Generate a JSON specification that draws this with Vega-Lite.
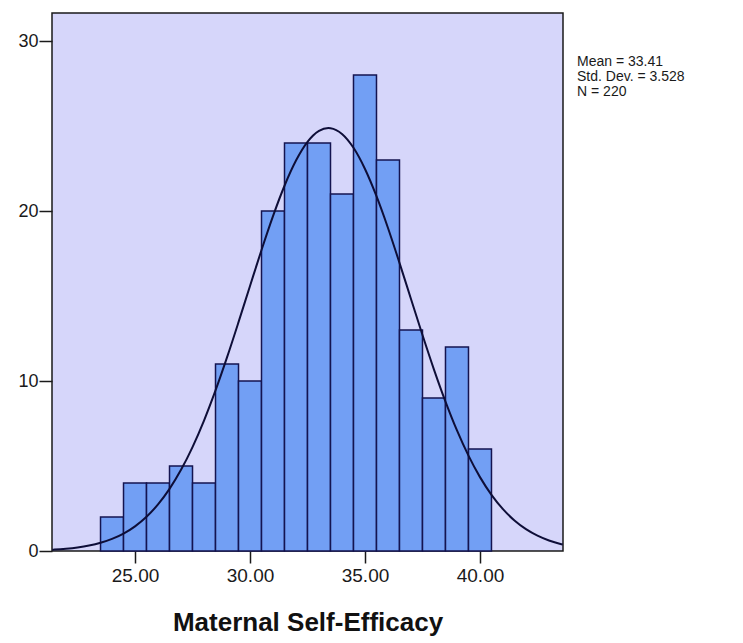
{
  "$schema": "https://vega.github.io/schema/vega-lite/v6.json",
  "width": 511,
  "height": 538,
  "autosize": {"type": "none"},
  "padding": {"left": 52, "top": 13, "right": 180, "bottom": 92},
  "background": "#ffffff",
  "config": {
    "view": {"fill": "#d6d6fa", "stroke": "#1a1a1a", "strokeWidth": 1.5},
    "font": "Liberation Sans",
    "axis": {"grid": false, "domain": false, "tickColor": "#1a1a1a", "tickWidth": 1.5, "labelColor": "#1a1a1a", "labelFont": "Liberation Sans", "labelFontSize": 18}
  },
  "datasets": {
    "bins": [
      {"start": 23.5, "end": 24.5, "count": 2},
      {"start": 24.5, "end": 25.5, "count": 4},
      {"start": 25.5, "end": 26.5, "count": 4},
      {"start": 26.5, "end": 27.5, "count": 5},
      {"start": 27.5, "end": 28.5, "count": 4},
      {"start": 28.5, "end": 29.5, "count": 11},
      {"start": 29.5, "end": 30.5, "count": 10},
      {"start": 30.5, "end": 31.5, "count": 20},
      {"start": 31.5, "end": 32.5, "count": 24},
      {"start": 32.5, "end": 33.5, "count": 24},
      {"start": 33.5, "end": 34.5, "count": 21},
      {"start": 34.5, "end": 35.5, "count": 28},
      {"start": 35.5, "end": 36.5, "count": 23},
      {"start": 36.5, "end": 37.5, "count": 13},
      {"start": 37.5, "end": 38.5, "count": 9},
      {"start": 38.5, "end": 39.5, "count": 12},
      {"start": 39.5, "end": 40.5, "count": 6}
    ],
    "curve": [
      {"x": 21.4, "y": 0.076}, {"x": 21.5, "y": 0.083}, {"x": 22, "y": 0.133}, {"x": 22.5, "y": 0.209},
      {"x": 23, "y": 0.32}, {"x": 23.5, "y": 0.481}, {"x": 24, "y": 0.71}, {"x": 24.5, "y": 1.025},
      {"x": 25, "y": 1.452}, {"x": 25.5, "y": 2.015}, {"x": 26, "y": 2.74}, {"x": 26.5, "y": 3.654},
      {"x": 27, "y": 4.775}, {"x": 27.5, "y": 6.115}, {"x": 28, "y": 7.675}, {"x": 28.5, "y": 9.446},
      {"x": 29, "y": 11.389}, {"x": 29.5, "y": 13.462}, {"x": 30, "y": 15.594}, {"x": 30.5, "y": 17.706},
      {"x": 31, "y": 19.701}, {"x": 31.5, "y": 21.487}, {"x": 32, "y": 22.968}, {"x": 32.5, "y": 24.065},
      {"x": 33, "y": 24.711}, {"x": 33.41, "y": 24.878}, {"x": 33.5, "y": 24.87}, {"x": 34, "y": 24.533},
      {"x": 34.5, "y": 23.719}, {"x": 35, "y": 22.475}, {"x": 35.5, "y": 20.873}, {"x": 36, "y": 19.002},
      {"x": 36.5, "y": 16.952}, {"x": 37, "y": 14.825}, {"x": 37.5, "y": 12.705}, {"x": 38, "y": 10.673},
      {"x": 38.5, "y": 8.787}, {"x": 39, "y": 7.09}, {"x": 39.5, "y": 5.608}, {"x": 40, "y": 4.346},
      {"x": 40.5, "y": 3.304}, {"x": 41, "y": 2.459}, {"x": 41.5, "y": 1.795}, {"x": 42, "y": 1.283},
      {"x": 42.5, "y": 0.9}, {"x": 43, "y": 0.618}, {"x": 43.5, "y": 0.416}, {"x": 43.6, "y": 0.384}
    ]
  },
  "layer": [
    {
      "data": {"name": "bins"},
      "mark": {"type": "bar", "fill": "#729ff4", "stroke": "#141450", "strokeWidth": 1.5},
      "encoding": {
        "x": {
          "field": "start", "type": "quantitative",
          "scale": {"domain": [21.39, 43.61], "nice": false, "zero": false},
          "axis": {"values": [25, 30, 35, 40], "format": ".2f", "tickSize": 12, "labelPadding": 3, "labelFontSize": 19, "title": "Maternal Self-Efficacy", "titleFont": "Liberation Sans", "titleFontSize": 26, "titleFontWeight": "bold", "titleColor": "#111111", "titlePadding": 24}
        },
        "x2": {"field": "end"},
        "y": {
          "field": "count", "type": "quantitative",
          "scale": {"domain": [0, 31.65], "nice": false},
          "axis": {"values": [0, 10, 20, 30], "tickSize": 13, "labelPadding": 1, "title": null}
        },
        "y2": {"datum": 0}
      }
    },
    {
      "data": {"name": "curve"},
      "mark": {"type": "line", "color": "#0e0e38", "strokeWidth": 2, "interpolate": "monotone", "clip": true},
      "encoding": {
        "x": {"field": "x", "type": "quantitative"},
        "y": {"field": "y", "type": "quantitative"}
      }
    },
    {
      "data": {"values": [{}]},
      "mark": {"type": "text", "text": ["Mean = 33.41", "Std. Dev. = 3.528", "N = 220"], "align": "left", "baseline": "alphabetic", "font": "Liberation Sans", "fontSize": 14, "lineHeight": 15, "color": "#1a1a1a", "clip": false},
      "encoding": {
        "x": {"datum": 44.22, "type": "quantitative"},
        "y": {"datum": 28.55, "type": "quantitative"}
      }
    }
  ]
}
